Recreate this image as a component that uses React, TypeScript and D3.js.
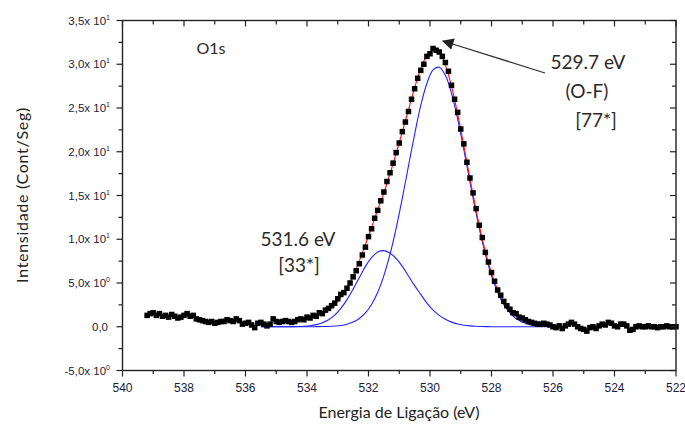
import React from 'react';
import * as d3 from 'd3';

// O1s spectrum: measured points [binding energy (eV), intensity]
const o1sPoints: [number, number][] = [
  [539.2, 1.3], [539.1, 1.5], [539.0, 1.6], [538.9, 1.3], [538.8, 1.5], [538.7, 1.2], [538.6, 1.3], [538.5, 1.1],
  [538.4, 1.4], [538.3, 1.2], [538.2, 1.0], [538.1, 1.1], [538.0, 1.3], [537.9, 1.5], [537.8, 1.2], [537.7, 1.3],
  [537.6, 0.9], [537.5, 0.8], [537.4, 0.7], [537.3, 0.6], [537.2, 0.5], [537.1, 0.6], [537.0, 0.4], [536.9, 0.5],
  [536.8, 0.6], [536.7, 0.6], [536.6, 0.8], [536.5, 0.7], [536.4, 0.6], [536.3, 0.9], [536.2, 0.7], [536.1, 0.3],
  [536.0, 0.4], [535.9, 0.5], [535.8, 0.2], [535.7, -0.1], [535.6, 0.4], [535.5, 0.5], [535.4, 0.3], [535.3, 0.1],
  [535.2, 0.3], [535.1, 0.9], [535.0, 0.6], [534.9, 0.5], [534.8, 0.6], [534.7, 0.7], [534.6, 0.6], [534.5, 0.5],
  [534.4, 0.6], [534.3, 0.8], [534.2, 0.9], [534.1, 0.8], [534.0, 1.1], [533.9, 1.0], [533.8, 1.3], [533.7, 1.2],
  [533.6, 1.6], [533.5, 1.5], [533.4, 1.9], [533.3, 2.1], [533.2, 2.4], [533.1, 2.7], [533.0, 3.2], [532.9, 3.7],
  [532.8, 3.9], [532.7, 4.4], [532.6, 5.0], [532.5, 5.7], [532.4, 6.4], [532.3, 7.2], [532.2, 8.2], [532.1, 9.1],
  [532.0, 10.3], [531.9, 11.2], [531.8, 12.4], [531.7, 13.3], [531.6, 14.4], [531.5, 15.4], [531.4, 16.6], [531.3, 17.6],
  [531.2, 18.7], [531.1, 19.9], [531.0, 21.0], [530.9, 22.3], [530.8, 23.4], [530.7, 24.6], [530.6, 26.0], [530.5, 27.2],
  [530.4, 28.4], [530.3, 29.3], [530.2, 30.0], [530.1, 30.9], [530.0, 31.2], [529.9, 31.8], [529.8, 31.6], [529.7, 31.4],
  [529.6, 30.9], [529.5, 30.2], [529.4, 29.2], [529.3, 27.6], [529.2, 26.0], [529.1, 24.5], [529.0, 22.6], [528.9, 20.9],
  [528.8, 18.8], [528.7, 17.0], [528.6, 15.3], [528.5, 13.5], [528.4, 11.6], [528.3, 10.2], [528.2, 8.5], [528.1, 7.4],
  [528.0, 6.2], [527.9, 5.2], [527.8, 4.2], [527.7, 3.6], [527.6, 2.9], [527.5, 2.4], [527.4, 2.0], [527.3, 1.6],
  [527.2, 1.5], [527.1, 1.1], [527.0, 1.0], [526.9, 0.8], [526.8, 0.6], [526.7, 0.5], [526.6, 0.4], [526.5, 0.3],
  [526.4, 0.3], [526.3, 0.4], [526.2, 0.3], [526.1, 0.2], [526.0, 0.0], [525.9, -0.1], [525.8, 0.1], [525.7, -0.2],
  [525.6, 0.1], [525.5, 0.3], [525.4, 0.5], [525.3, 0.3], [525.2, 0.0], [525.1, -0.2], [525.0, -0.3], [524.9, -0.5],
  [524.8, -0.1], [524.7, 0.0], [524.6, -0.2], [524.5, 0.1], [524.4, 0.3], [524.3, 0.2], [524.2, 0.5], [524.1, 0.4],
  [524.0, 0.1], [523.9, 0.0], [523.8, 0.3], [523.7, 0.3], [523.6, 0.1], [523.5, -0.4], [523.4, -0.3], [523.3, 0.0],
  [523.2, 0.1], [523.1, 0.0], [523.0, 0.0], [522.9, 0.1], [522.8, 0.0], [522.7, 0.0], [522.6, -0.1], [522.5, 0.0],
  [522.4, 0.0], [522.3, 0.1], [522.2, 0.0], [522.1, 0.0], [522.0, 0.0],
];

// fitted curves, sampled on one energy grid
const fitEnergy = [
  535.5, 535.3, 535.1, 534.9, 534.7, 534.5, 534.3, 534.1, 533.9, 533.7,
  533.5, 533.3, 533.1, 532.9, 532.7, 532.5, 532.3, 532.1, 531.9, 531.7,
  531.5, 531.3, 531.1, 530.9, 530.7, 530.5, 530.3, 530.1, 529.9, 529.7,
  529.5, 529.3, 529.1, 528.9, 528.7, 528.5, 528.3, 528.1, 527.9, 527.7,
  527.5, 527.3, 527.1, 526.9, 526.7, 526.5, 526.3, 526.1, 525.9, 525.7,
];
// 529.7 eV component (O-F)
const peakOF = [
  0, 0, 0, 0, 0, 0, 0, 0, 0, 0.01,
  0.02, 0.035, 0.08, 0.15, 0.29, 0.53, 0.94, 1.58, 2.55, 3.94,
  5.84, 8.29, 11.28, 14.71, 18.38, 22.0, 25.29, 27.83, 29.35, 29.66,
  28.73, 26.67, 23.72, 20.23, 16.53, 12.95, 9.72, 7.0, 4.82, 3.18,
  2.02, 1.22, 0.71, 0.4, 0.21, 0.11, 0.05, 0.02, 0.01, 0,
];
// 531.6 eV component
const peak5316 = [
  0, 0, 0, 0, 0, 0.01, 0.02, 0.05, 0.12, 0.24,
  0.45, 0.8, 1.33, 2.1, 3.1, 4.3, 5.6, 6.9, 7.9, 8.55,
  8.7, 8.4, 7.8, 6.9, 5.8, 4.7, 3.7, 2.7, 1.9, 1.3,
  0.85, 0.53, 0.31, 0.18, 0.1, 0.05, 0.02, 0.01, 0, 0,
  0, 0, 0, 0, 0, 0, 0, 0, 0, 0,
];
// cumulative fit (red)
const envelope: (number | null)[] = [
  null, null, null, null, null, null, null, 0.95, 1.05, 1.25,
  1.5, 1.9, 2.5, 3.35, 4.45, 5.8, 7.5, 9.4, 11.35, 13.4,
  15.3, 17.5, 19.8, 22.3, 24.8, 27.3, 29.5, 31.0, 31.65, 31.4,
  29.9, 27.5, 24.3, 20.7, 16.9, 13.3, 10.0, 7.3, 5.1, 3.5,
  2.3, 1.5, 1.0, 0.7, 0.5, null, null, null, null, null,
];

const xTicks = [540, 538, 536, 534, 532, 530, 528, 526, 524, 522];
const xMinor = [539, 537, 535, 533, 531, 529, 527, 525, 523];
const yTicks = [-5, 0, 5, 10, 15, 20, 25, 30, 35];
const yMinor = [-2.5, 2.5, 7.5, 12.5, 17.5, 22.5, 27.5, 32.5];
const yTickLabels: [string, string][] = [
  ['-5,0x 10', '0'], ['0,0', ''], ['5,0x 10', '0'], ['1,0x 10', '1'], ['1,5x 10', '1'],
  ['2,0x 10', '1'], ['2,5x 10', '1'], ['3,0x 10', '1'], ['3,5x 10', '1'],
];

const W = 685;
const H = 430;
const tickFont = '"Liberation Sans", Arial, sans-serif';
const textFont = 'Lato, "Open Sans", sans-serif';

export default function App() {
  const x = d3.scaleLinear().domain([540, 522]).range([122.5, 676]);
  const y = d3.scaleLinear().domain([-5, 35]).range([370.5, 20.5]);
  const [x0, x1] = x.range();
  const [y0, y1] = y.range();

  const fitLine = (vals: (number | null)[]) =>
    d3
      .line<number>()
      .defined((_, i) => vals[i] != null)
      .x((e) => x(e))
      .y((_, i) => y(vals[i] as number))
      .curve(d3.curveCatmullRom)(fitEnergy) || '';

  const axisColor = '#222';
  const labelColor = '#1c1c3a';
  const ms = 5.5;

  return (
    <svg width={W} height={H} style={{ position: 'absolute', left: 0, top: 0, background: '#fff' }}>
      <defs>
        <marker id="arrowHead" viewBox="0 0 10 10" refX="9" refY="5" markerWidth="9" markerHeight="9" orient="auto">
          <path d="M0,0 L10,5 L0,10 z" fill="#222" />
        </marker>
      </defs>

      {/* fitted components */}
      <path d={fitLine(peak5316)} fill="none" stroke="#2323ff" strokeWidth={1.1} />
      <path d={fitLine(peakOF)} fill="none" stroke="#2323ff" strokeWidth={1.1} />
      <path d={fitLine(envelope)} fill="none" stroke="#ff1010" strokeWidth={1.1} />

      {/* data */}
      <g fill="#000">
        {o1sPoints.map(([e, v], i) => (
          <rect key={i} x={x(e) - ms / 2} y={y(v) - ms / 2} width={ms} height={ms} />
        ))}
      </g>

      {/* frame */}
      <rect x={x0} y={y1} width={x1 - x0} height={y0 - y1} fill="none" stroke={axisColor} strokeWidth={1.4} />

      {/* bottom / top / left / right ticks */}
      <g stroke={axisColor} strokeWidth={1.2}>
        {xTicks.map((t) => (
          <g key={t}>
            <line x1={x(t)} x2={x(t)} y1={y0} y2={y0 + 6} />
            <line x1={x(t)} x2={x(t)} y1={y1} y2={y1 + 6} />
          </g>
        ))}
        {xMinor.map((t) => (
          <g key={t}>
            <line x1={x(t)} x2={x(t)} y1={y0} y2={y0 + 3.5} />
            <line x1={x(t)} x2={x(t)} y1={y1} y2={y1 + 4} />
          </g>
        ))}
        {yTicks.map((t) => (
          <g key={t}>
            <line x1={x0 - 6} x2={x0} y1={y(t)} y2={y(t)} />
            <line x1={x1 - 6} x2={x1} y1={y(t)} y2={y(t)} />
          </g>
        ))}
        {yMinor.map((t) => (
          <g key={t}>
            <line x1={x0 - 4} x2={x0} y1={y(t)} y2={y(t)} />
            <line x1={x1 - 4} x2={x1} y1={y(t)} y2={y(t)} />
          </g>
        ))}
      </g>

      {/* tick labels */}
      <g fontFamily={tickFont} fontSize={12} fill={labelColor} textAnchor="middle">
        {xTicks.map((t) => (
          <text key={t} x={x(t)} y={y0 + 21}>
            {t}
          </text>
        ))}
      </g>
      <g fontFamily={tickFont} fontSize={11.5} fill={labelColor} textAnchor="end">
        {yTicks.map((t, i) => (
          <text key={t} x={yTickLabels[i][1] ? 110 : 108} y={y(t) + 4}>
            {yTickLabels[i][0]}
            {yTickLabels[i][1] && (
              <tspan fontSize={7} dy={-5}>
                {yTickLabels[i][1]}
              </tspan>
            )}
          </text>
        ))}
      </g>

      {/* axis titles */}
      <text x={399} y={418} textAnchor="middle" fontFamily={textFont} fontSize={16} fill="#222">
        Energia de Ligação (eV)
      </text>
      <text
        transform={`translate(28,195) rotate(-90)`}
        textAnchor="middle"
        fontFamily={textFont}
        fontSize={16}
        letterSpacing={0.7}
        fill="#222"
      >
        Intensidade (Cont/Seg)
      </text>

      {/* annotations */}
      <text x={211} y={54} textAnchor="middle" fontFamily={textFont} fontSize={16} fill="#2a2a2a">
        O1s
      </text>
      <g fontFamily={textFont} fontSize={19} fill="#2a2a2a" textAnchor="middle">
        <text x={588} y={69}>529.7 eV</text>
        <text x={587} y={98}>(O-F)</text>
        <text x={596} y={127}>[77*]</text>
        <text x={298} y={246}>531.6 eV</text>
        <text x={299} y={272}>[33*]</text>
      </g>
      <line x1={545} y1={73} x2={443} y2={41} stroke="#333" strokeWidth={1.3} markerEnd="url(#arrowHead)" />
    </svg>
  );
}
